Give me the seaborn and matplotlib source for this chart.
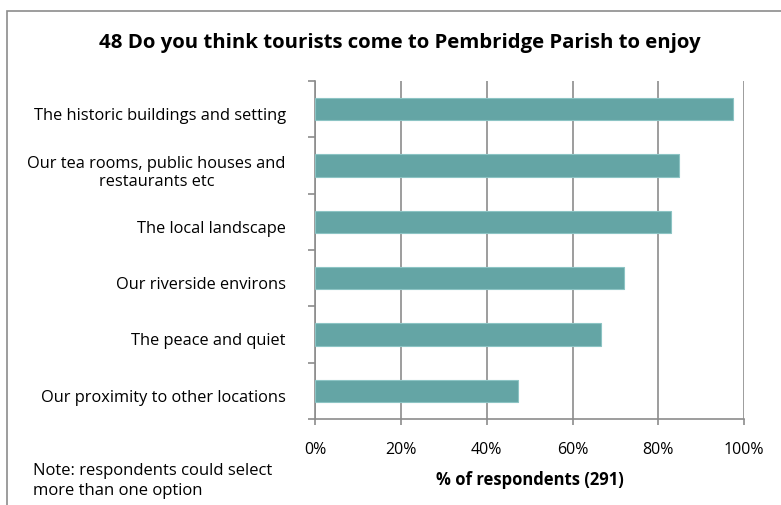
import numpy as np
import pandas as pd
import matplotlib
matplotlib.use("Agg")
import matplotlib.pyplot as plt
import matplotlib.transforms as mtransforms
import seaborn as sns
from matplotlib.ticker import FuncFormatter, FixedLocator
from matplotlib.patches import Rectangle

# ── Data ──────────────────────────────────────────────────────────────────────
categories = [
    "The historic buildings and setting",
    "Our tea rooms, public houses and\nrestaurants etc",
    "The local landscape",
    "Our riverside environs",
    "The peace and quiet",
    "Our proximity to other locations",
]
percent = [97.4, 84.7, 82.9, 72.0, 66.7, 47.2]
x_ticks = [0, 20, 40, 60, 80, 100]

title = "48 Do you think tourists come to Pembridge Parish to enjoy"
x_label = "% of respondents (291)"
note = "Note: respondents could select\nmore than one option"

# ── Plot ──────────────────────────────────────────────────────────────────────
sns.set_theme(style="white")
plt.rcParams["font.family"] = ["Open Sans", "DejaVu Sans"]

df = pd.DataFrame({"category": categories, "percent": percent})

fig = plt.figure(figsize=(7.81, 5.06), dpi=100)
ax = fig.add_axes([0.4033, 0.1700, 0.5497, 0.6680])

sns.barplot(data=df, x="percent", y="category", orient="h", color="#64A5A5",
            saturation=1, width=0.4, edgecolor="#8CC4C4", linewidth=0.8, ax=ax,
            zorder=3)

ax.set_xlim(0, 100)
ax.set_ylim(5.5, -0.5)
ax.xaxis.set_major_locator(FixedLocator(x_ticks))
ax.xaxis.set_major_formatter(FuncFormatter(lambda v, _: f"{v:.0f}%"))
ax.grid(axis="x", color="#8c8c8c", linewidth=1.2, zorder=0)
ax.grid(axis="y", visible=False)

for side in ["top", "right"]:
    ax.spines[side].set_visible(False)
for side in ["left", "bottom"]:
    ax.spines[side].set_color("#8c8c8c")
    ax.spines[side].set_linewidth(1.2)

ax.tick_params(axis="x", which="major", direction="out", length=4, width=1.2,
               color="#8c8c8c", labelsize=11.5, pad=12, bottom=True)
ax.tick_params(axis="y", which="major", length=0, labelsize=11.8, pad=21)
ax.yaxis.set_minor_locator(FixedLocator(np.arange(-0.5, 6, 1)))
ax.tick_params(axis="y", which="minor", direction="out", length=5, width=1.2,
               color="#8c8c8c", left=True)

# Excel sets category labels a touch below the bar centre
shift_down = mtransforms.ScaledTranslation(0, -4 / 100, fig.dpi_scale_trans)
for lab in ax.get_yticklabels():
    lab.set_multialignment("center")
    lab.set_color("black")
    lab.set_linespacing(1.1)
    lab.set_transform(lab.get_transform() + shift_down)
for lab in ax.get_xticklabels():
    lab.set_color("black")

ax.set_ylabel("")
ax.set_xlabel(x_label, fontsize=12, fontweight="bold", color="black")
ax.xaxis.set_label_coords(0.5, -0.15)

fig.text(0.5115, 0.915, title, ha="center", va="center", fontsize=14.7,
         fontweight="bold", color="black")
fig.text(0.042, 0.049, note, ha="left", va="center", fontsize=12,
         color="black", linespacing=1.3)

# outer chart frame
fig.patches.append(Rectangle((0.0096, -0.1), 1.1, 1.0757, transform=fig.transFigure,
                             fill=False, edgecolor="#8c8c8c", linewidth=1.2))

fig.savefig("out.png", dpi=100)
